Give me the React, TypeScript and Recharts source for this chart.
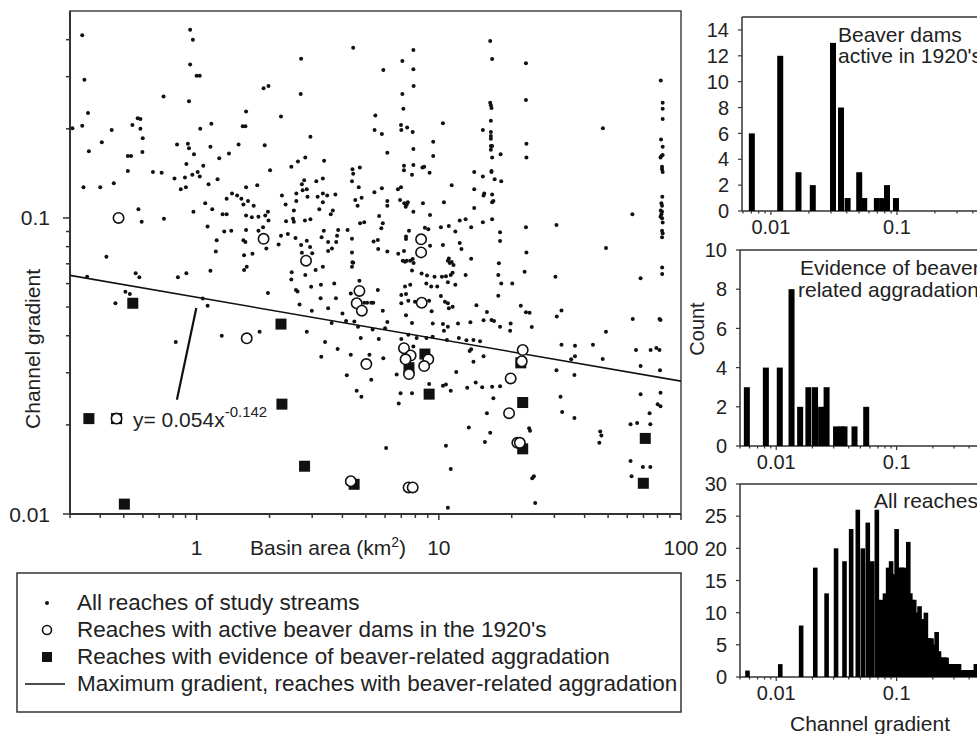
import React from 'react';
import { ScatterChart, Scatter, XAxis, YAxis, ReferenceArea, ReferenceLine } from 'recharts';

const FONT = "Arial, 'Liberation Sans', Helvetica, sans-serif";
const INK = '#111';

// ---------- main scatter: [basin area km2, channel gradient] ----------
const allReaches: [number, number][] = [
  [0.337,0.414],[0.344,0.293],[0.356,0.226],[0.337,0.205],[0.307,0.201],[0.359,0.168],[0.341,0.127],[0.40,0.127],[0.455,0.131],[0.406,0.180],
  [0.446,0.198],[0.543,0.206],[0.571,0.217],[0.586,0.216],[0.586,0.200],[0.599,0.186],[0.597,0.167],[0.52,0.162],[0.536,0.162],[0.52,0.144],
  [0.575,0.107],[0.593,0.097],[0.424,0.074],[0.73,0.257],[0.94,0.432],[0.965,0.40],[0.94,0.33],[1.0,0.302],[1.03,0.302],[0.93,0.248],
  [0.83,0.177],[0.92,0.178],[0.93,0.172],[0.975,0.164],[0.907,0.152],[0.66,0.143],[0.717,0.142],[0.81,0.136],[0.895,0.137],[0.903,0.127],
  [0.86,0.125],[0.96,0.140],[1.01,0.143],[1.03,0.138],[1.065,0.150],[1.035,0.200],[1.15,0.208],[1.14,0.174],[1.24,0.159],[1.22,0.135],
  [1.12,0.130],[0.733,0.0993],[0.97,0.105],[1.085,0.112],[1.16,0.107],[1.11,0.0935],[1.21,0.084],[1.2,0.077],[1.28,0.103],[1.33,0.103],
  [1.33,0.116],[1.40,0.121],[1.47,0.119],[1.53,0.116],[1.56,0.111],[1.63,0.114],[1.72,0.110],[1.6,0.127],[1.78,0.129],[1.36,0.165],
  [1.49,0.177],[1.55,0.204],[1.59,0.204],[1.60,0.229],[1.89,0.274],[1.98,0.279],[1.91,0.176],[2.01,0.145],[2.23,0.22],[2.70,0.345],
  [2.69,0.262],[2.95,0.188],[2.81,0.160],[2.62,0.155],[2.46,0.149],[3.36,0.156],[4.43,0.376],[5.47,0.222],[5.43,0.198],[4.4,0.146],
  [4.43,0.141],[4.72,0.148],[4.38,0.133],[4.67,0.127],[5.42,0.122],[4.52,0.115],[4.8,0.117],[4.62,0.110],[4.73,0.0959],[4.92,0.0967],
  [4.38,0.085],[4.38,0.0765],[4.4,0.0709],[5.38,0.0832],[5.6,0.0843],[5.62,0.0785],[2.72,0.130],[2.78,0.134],[2.85,0.125],[2.74,0.124],
  [3.12,0.133],[3.32,0.136],[2.58,0.121],[2.25,0.119],[3.16,0.118],[3.32,0.121],[3.46,0.119],[3.74,0.120],[2.58,0.114],[2.87,0.118],
  [2.33,0.111],[3.32,0.113],[3.21,0.107],[3.65,0.106],[3.58,0.103],[2.52,0.106],[1.60,0.102],[1.69,0.1005],[1.80,0.101],[1.92,0.102],
  [1.97,0.105],[1.98,0.098],[2.34,0.0975],[2.5,0.0993],[2.52,0.097],[2.80,0.098],[2.95,0.099],[3.35,0.0906],[3.28,0.086],[3.49,0.083],
  [3.77,0.083],[3.84,0.091],[3.80,0.087],[4.2,0.091],[1.39,0.0906],[1.30,0.090],[1.60,0.091],[1.80,0.0906],[1.88,0.093],[1.56,0.084],
  [1.59,0.083],[2.23,0.087],[2.38,0.0883],[2.56,0.0855],[2.18,0.0813],[1.94,0.0788],[1.57,0.0748],[1.70,0.0757],[2.70,0.081],[2.85,0.0838],
  [2.94,0.0797],[3.0,0.076],[2.72,0.0763],[3.49,0.0774],[3.62,0.0788],
  [5.9,0.316],[5.82,0.192],[6.13,0.166],[7.07,0.339],[7.85,0.369],[7.85,0.318],[7.87,0.279],[7.07,0.262],[7.14,0.234],[6.98,0.206],
  [7.0,0.198],[7.4,0.202],[7.8,0.195],[7.85,0.171],[7.18,0.150],[7.18,0.145],[7.85,0.151],[7.75,0.140],[8.56,0.148],[8.7,0.149],
  [9.16,0.142],[9.48,0.181],[9.48,0.162],[10.4,0.209],[11.3,0.129],[10.5,0.113],[5.82,0.126],[6.78,0.125],[6.98,0.127],[6.13,0.114],
  [6.13,0.110],[6.92,0.115],[7.2,0.112],[7.37,0.111],[7.3,0.109],[7.45,0.113],[7.85,0.105],[8.6,0.112],[9.2,0.1023],[5.67,0.1016],
  [5.87,0.0959],[5.79,0.0923],[6.13,0.077],[6.8,0.0757],[7.18,0.0774],[7.32,0.0849],[7.53,0.0906],[7.32,0.0865],[7.1,0.0717],[7.37,0.0717],
  [7.8,0.0726],[8.76,0.0927],[9.05,0.0915],[9.2,0.0806],[10.2,0.093],[10.4,0.081],[11.0,0.094],[11.7,0.090],[12.2,0.098],[12.9,0.099],
  [12.2,0.0823],[12.4,0.0785],[11.0,0.073],[11.3,0.071],[13.6,0.093],[14.0,0.108],[15.2,0.0967],[13.6,0.0728],[14.0,0.125],[14.0,0.143],
  [15.2,0.138],[15.3,0.119],[15.4,0.121],[16.6,0.12],[16.6,0.113],[16.8,0.114],[16.6,0.099],[15.2,0.198],[16.3,0.396],[16.6,0.344],
  [16.3,0.245],[16.4,0.24],[16.5,0.235],[16.4,0.213],[16.4,0.195],[16.4,0.189],[16.4,0.185],[16.4,0.175],[16.6,0.175],[16.4,0.170],
  [16.6,0.16],[18.0,0.164],[16.5,0.144],[16.5,0.143],[17.0,0.135],[18.1,0.133],[17.9,0.0895],[17.9,0.0835],[17.7,0.0703],[22.9,0.333],
  [22.9,0.25],[23.0,0.178],[23.0,0.16],[22.9,0.093],[23.0,0.0765],[30.6,0.0947],[47.6,0.201],[63.0,0.103],[49.0,0.0792],
  [82.5,0.291],[84,0.245],[84,0.234],[84,0.216],[82.7,0.184],[84,0.174],[82.3,0.16],[83,0.162],[84,0.163],[83.5,0.149],
  [83.5,0.146],[84,0.143],[83.7,0.118],[83,0.112],[83.5,0.110],[82.5,0.106],[83.5,0.105],[83,0.103],[82.3,0.101],[83.5,0.0997],
  [84,0.0965],[83.5,0.0906],[84,0.0888],[83.5,0.086],
  [0.353,0.0633],[0.462,0.0515],[0.508,0.0563],[0.53,0.0553],[0.56,0.065],[0.58,0.063],[0.837,0.063],[0.907,0.065],[1.14,0.0663],[0.82,0.0381],
  [1.06,0.0534],[1.11,0.0505],[1.27,0.040],[1.57,0.0667],[1.61,0.0684],[1.82,0.0413],[1.97,0.0558],[2.47,0.0655],[2.46,0.0619],[2.57,0.0571],
  [2.61,0.0564],[2.66,0.051],[2.81,0.0641],[2.85,0.0413],[2.97,0.0585],[2.99,0.0486],[3.1,0.0667],[3.32,0.0684],[3.26,0.0595],[3.25,0.0535],
  [3.49,0.0495],[3.39,0.0381],[3.27,0.034],[3.82,0.0361],[3.7,0.0601],[3.76,0.0535],[4.0,0.0476],[3.61,0.0442],[4.43,0.0706],[4.38,0.0684],
  [4.7,0.0614],[4.33,0.0556],[4.92,0.0517],[5.06,0.0517],[5.26,0.0517],[5.36,0.0517],[4.14,0.0449],[4.48,0.0447],[4.64,0.0429],[4.76,0.0393],
  [4.33,0.0345],[4.17,0.0294],[4.58,0.0261],[4.79,0.0249],[5.26,0.0284],[5.33,0.042],[5.6,0.0571],[5.65,0.039],[5.17,0.0345],
  [7.25,0.0711],[7.62,0.0717],[7.87,0.0705],[10.9,0.0717],[11.1,0.0705],[11.5,0.0693],[7.75,0.0664],[8.49,0.0649],[8.94,0.0639],[9.6,0.0633],
  [10.3,0.0633],[10.7,0.0636],[11.2,0.0641],[11.4,0.0653],[10.9,0.0606],[11.7,0.0595],[12.9,0.0641],[7.25,0.0587],[7.62,0.0595],[8.88,0.06],
  [9.3,0.0587],[9.85,0.0587],[7.0,0.0549],[7.32,0.0554],[7.0,0.0515],[7.48,0.0525],[7.97,0.0521],[9.12,0.0525],[9.34,0.0484],[10.2,0.0545],
  [10.6,0.0521],[10.9,0.0515],[11.0,0.0495],[11.4,0.0501],[7.32,0.0469],[7.75,0.0442],[9.44,0.044],[10.4,0.0438],[10.5,0.0416],[10.9,0.0429],
  [5.87,0.0486],[6.13,0.0445],[6.0,0.0424],[5.9,0.0336],[8.89,0.0393],[9.43,0.0397],[10.8,0.0387],[12.1,0.0393],[13.5,0.0444],[13.9,0.0387],
  [14.3,0.0507],[15.3,0.0451],[15.8,0.0481],[16.5,0.0452],[16.9,0.0449],[17.9,0.0429],[19.7,0.0416],[19.8,0.044],[17.6,0.0641],[18.1,0.0601],
  [20.1,0.0600],[17.6,0.0546],[22.6,0.0658],[21.8,0.0505],[22.9,0.048],[23.7,0.0478],[24.2,0.0428],[30.3,0.0633],[30.7,0.0465],[32.1,0.0487],
  [32.1,0.0373],[30.6,0.0306],[36.5,0.0370],[36.5,0.0341],[35.2,0.0333],[36.3,0.0295],[47.5,0.0334],[43.3,0.0373],[49.0,0.0413],[63.2,0.0456],
  [68.1,0.0625],[83.6,0.068],[83.6,0.0647],[81.5,0.0456],[82.3,0.0452],[65.2,0.0358],[68.1,0.0316],[74.9,0.0358],[79.1,0.0364],[81.5,0.0358],
  [81.9,0.0306],[68.1,0.0254],[82.3,0.0257],[80.1,0.0235],[82.3,0.0231],[74.2,0.0219],[61.9,0.0201],[65.9,0.0203],[74.7,0.0201],[61.9,0.0151],
  [62.5,0.0134],[69.6,0.0144],[74.7,0.0144],[46.4,0.019],[46.9,0.0184],[46.0,0.0174],[31.8,0.0249],[32.3,0.0221],[36.3,0.0211],[24.3,0.0132],
  [24.7,0.0134],[25.0,0.0109],[23.6,0.0195],[23.8,0.0191],[16.8,0.0246],[15.8,0.0219],[16.3,0.0188],[15.5,0.0175],[13.3,0.0196],[10.7,0.017],
  [11.2,0.0142],[10.9,0.0105],[6.06,0.0167],[11.2,0.0261],[10.4,0.0271],[10.7,0.0274],[13.1,0.0267],[15.1,0.0268],[16.6,0.0269],[17.9,0.027],
  [14.2,0.0278],[13.9,0.0327],[15.3,0.0341],[13.4,0.0355],[11.8,0.0302],[12.0,0.044],[13.0,0.0386],[14.8,0.0383],[13.6,0.036],[7.0,0.039],
  [6.7,0.0296],[9.12,0.0275],[6.95,0.0256],[6.83,0.0236],[7.75,0.0256],[9.34,0.0257],[8.1,0.0393],[7.85,0.0368],[7.48,0.0403]
];

const beaverDams1920s: [number, number][] = [
  [0.476,0.1],[1.89,0.085],[2.83,0.0717],[1.61,0.0392],[4.7,0.0567],[4.58,0.0515],[4.81,0.0486],[5.02,0.0321],[4.33,0.0129],[0.467,0.021],
  [8.45,0.0847],[8.45,0.0765],[8.5,0.0517],[7.18,0.0363],[7.65,0.0343],[7.29,0.0333],[9.05,0.0333],[8.7,0.0316],[7.53,0.0297],[22.2,0.0358],
  [22.0,0.0328],[19.8,0.0287],[19.5,0.0219],[21.1,0.0174],[21.6,0.0174],[7.5,0.0123],[7.8,0.0123]
];

const aggradationReaches: [number, number][] = [
  [0.545,0.0515],[2.23,0.0438],[2.25,0.0235],[0.359,0.021],[0.467,0.021],[0.503,0.0108],[2.79,0.0145],[4.47,0.0126],
  [8.76,0.0347],[7.53,0.0312],[9.12,0.0254],[21.8,0.0324],[22.2,0.0238],[22.2,0.0166],[71.2,0.018],[69.9,0.0127]
];

// maximum-gradient power law y = 0.054 x^-0.142 (straight on log-log), end points
const maxGradientLine: [number, number][] = [[0.3, 0.064], [100, 0.0281]];
const equationLeader: [number, number][] = [[0.997, 0.0496], [0.829, 0.0243]];

const areaTicks = [0.3,0.4,0.5,0.6,0.7,0.8,0.9,1,2,3,4,5,6,7,8,9,10,20,30,40,50,60,70,80,90,100];
const areaLabels = [1, 10, 100];
const gradTicks = [0.01,0.02,0.03,0.04,0.05,0.06,0.07,0.08,0.09,0.1,0.2,0.3,0.4];
const gradLabels = [0.01, 0.1];

// ---------- histograms: [channel gradient bin, count] ----------
const damsBins = [0.00706,0.01186,0.01656,0.0215,0.0311,0.0360,0.0406,0.0502,0.0550,0.0693,0.0769,0.0834,0.0982];
const damsCounts = [6,12,3,2,13,8,1,3,1,1,1,2,1];

const aggrBins = [0.0057,0.0082,0.0107,0.0134,0.0158,0.0185,0.0210,0.0236,0.0262,0.0314,0.0346,0.0369,0.0447,0.0559];
const aggrCounts = [3,4,4,8,2,3,3,2,3,1,1,1,1,2];

const allBins = [
  0.00577,0.0108,0.0161,0.0211,0.0262,0.0314,0.0369,0.0419,0.0476,0.0524,0.0576,0.0627,0.0685,
  0.07,0.075,0.08,0.085,0.09,0.095,0.1,0.105,0.11,0.115,0.12,0.125,0.13,0.135,0.14,0.145,0.15,0.155,0.16,0.165,0.17,0.175,
  0.18,0.185,0.19,0.195,0.2,0.205,0.21,0.215,0.22,0.225,0.23,0.235,0.24,0.245,0.25,0.255,0.26,0.265,0.27,0.275,0.28,0.285,
  0.29,0.295,0.3,0.305,0.31,0.315,0.32,0.325,0.33,0.335,0.34,0.345,0.35,0.355,0.36,0.365,0.37,0.375,0.38,0.385,0.39,0.395,
  0.4,0.405,0.41,0.415,0.42,0.425,0.43,0.435,0.44,0.445,0.45,0.455,0.46,0.465,0.47
];
const allCounts = [
  1,2,8,17,13,20,18,23,26,20,24,18,26,
  12,12,13,17,18,16,23,17,17,17,15,21,13,12,12,10,10,11,9,9,8,10,
  6,6,6,6,5,5,5,7,4,4,3,3,3,3,3,3,3,2,2,2,2,2,
  2,2,2,2,2,2,2,2,2,1,1,1,1,1,1,1,1,1,1,1,1,1,
  1,1,1,1,1,1,1,1,1,1,1,2,2,1,1
];

const histXTicks = [0.005,0.006,0.007,0.008,0.009,0.01,0.02,0.03,0.04,0.05,0.06,0.07,0.08,0.09,0.1,0.2,0.3,0.4,0.5,0.6,0.7,0.8,0.9,1];
const histXLabels = [0.01, 0.1];

const toPts = (a: [number, number][]) => a.map(([x, y]) => ({ x, y }));

const MainXTick = (p: any) => {
  const v = p.payload.value;
  const major = areaLabels.includes(v);
  return (
    <g>
      <line x1={p.x} y1={p.y} x2={p.x} y2={p.y + (major ? 6 : 4)} stroke="#333" strokeWidth={1.5} />
      {major && (
        <text x={p.x} y={p.y + 41} textAnchor="middle" fontSize={21} fontFamily={FONT} fill="#222">{v}</text>
      )}
    </g>
  );
};
const MainYTick = (p: any) => {
  const v = p.payload.value;
  const major = gradLabels.includes(v);
  return (
    <g>
      <line x1={p.x} y1={p.y} x2={p.x - (major ? 7 : 4)} y2={p.y} stroke="#333" strokeWidth={1.5} />
      {major && (
        <text x={p.x - 20} y={p.y} dy="0.36em" textAnchor="end" fontSize={21} fontFamily={FONT} fill="#222">{v}</text>
      )}
    </g>
  );
};
const RightTick = (p: any) => (
  <line x1={p.x} y1={p.y} x2={p.x - 4} y2={p.y} stroke="#333" strokeWidth={1.5} />
);
const HistXTick = (p: any) => {
  const v = p.payload.value;
  const major = histXLabels.includes(v);
  return (
    <g>
      <line x1={p.x} y1={p.y} x2={p.x} y2={p.y + (major ? 4 : 2.5)} stroke="#333" strokeWidth={1.2} />
      {major && (
        <text x={p.x} y={p.y + 23} textAnchor="middle" fontSize={20} fontFamily={FONT} fill="#222">{v}</text>
      )}
    </g>
  );
};
const HistYTick = (p: any) => (
  <g>
    <line x1={p.x} y1={p.y} x2={p.x - 4} y2={p.y} stroke="#333" strokeWidth={1.2} />
    <text x={p.x - 13} y={p.y} dy="0.36em" textAnchor="end" fontSize={20} fontFamily={FONT} fill="#222">{p.payload.value}</text>
  </g>
);

type HistProps = {
  left: number; top: number; plotW: number; plotH: number; xMin: number;
  yMax: number; yTicks: number[]; bins: number[]; counts: number[]; barW: number;
};

function Histogram({ left, top, plotW, plotH, xMin, yMax, yTicks, bins, counts, barW }: HistProps) {
  const data = bins.map((g, i) => ({ x: g, y: counts[i] }));
  const mt = 14, yw = 50, xh = 40;
  const base = mt + plotH;
  return (
    <div style={{ position: 'absolute', left: left - yw, top: top - mt }}>
      <ScatterChart width={yw + plotW} height={mt + plotH + xh} margin={{ top: mt, right: 0, left: 0, bottom: 0 }}>
        <XAxis type="number" dataKey="x" scale="log" domain={[xMin, 1]} allowDataOverflow
          ticks={histXTicks.filter((t) => t >= xMin)} interval={0} height={xh} tickSize={0} tickMargin={0}
          tickLine={false} tick={HistXTick} axisLine={{ stroke: '#333', strokeWidth: 1.5 }} />
        <YAxis type="number" dataKey="y" domain={[0, yMax]} allowDataOverflow ticks={yTicks} interval={0}
          width={yw} tickSize={0} tickMargin={0} tickLine={false} tick={HistYTick}
          axisLine={{ stroke: '#333', strokeWidth: 1.5 }} />
        <ReferenceLine y={yMax} stroke="#333" strokeWidth={1.5} />
        <Scatter data={data} isAnimationActive={false}
          shape={(p: any) => (
            <rect x={p.cx - barW / 2} y={p.cy} width={barW} height={Math.max(0, base - p.cy)} fill="#000" />
          )} />
      </ScatterChart>
    </div>
  );
}

export default function App() {
  return (
    <div style={{ position: 'absolute', left: 0, top: 0, width: 977, height: 734, overflow: 'hidden', background: '#fff', fontFamily: FONT }}>
      <div style={{ position: 'absolute', left: 0, top: 0 }}>
        <ScatterChart width={700} height={560} margin={{ top: 11, right: 19, bottom: 0, left: 0 }}>
          <XAxis type="number" dataKey="x" scale="log" domain={[0.3, 100]} allowDataOverflow ticks={areaTicks}
            interval={0} height={46} tickSize={0} tickMargin={0} tickLine={false} tick={MainXTick}
            axisLine={{ stroke: '#333', strokeWidth: 2 }} />
          <YAxis type="number" dataKey="y" scale="log" domain={[0.01, 0.5]} allowDataOverflow ticks={gradTicks}
            interval={0} width={70} tickSize={0} tickMargin={0} tickLine={false} tick={MainYTick}
            axisLine={{ stroke: '#333', strokeWidth: 2 }} />
          <YAxis yAxisId="r" orientation="right" type="number" scale="log" domain={[0.01, 0.5]} allowDataOverflow
            ticks={gradTicks} interval={0} width={0} tickSize={0} tickMargin={0} tickLine={false} tick={RightTick}
            axisLine={false} />
          <ReferenceArea x1={0.3} x2={100} y1={0.01} y2={0.5} fill="none" fillOpacity={0} stroke="#444" strokeWidth={1.5} />
          <Scatter data={toPts(allReaches)} isAnimationActive={false}
            shape={(p: any) => <circle cx={p.cx} cy={p.cy} r={2} fill={INK} />} />
          <Scatter data={toPts(maxGradientLine)} isAnimationActive={false} line={{ stroke: INK, strokeWidth: 1.6 }}
            shape={() => <g />} />
          <ReferenceLine segment={toPts(equationLeader)} stroke={INK} strokeWidth={2.2} />
          <Scatter data={toPts(aggradationReaches)} isAnimationActive={false}
            shape={(p: any) => <rect x={p.cx - 5.5} y={p.cy - 5.5} width={11} height={11} fill={INK} />} />
          <Scatter data={toPts(beaverDams1920s)} isAnimationActive={false}
            shape={(p: any) => <circle cx={p.cx} cy={p.cy} r={5.2} fill="#fff" stroke={INK} strokeWidth={1.6} />} />
        </ScatterChart>
      </div>

      <Histogram left={742} top={17} plotW={281} plotH={194} xMin={0.0059} yMax={15}
        yTicks={[0, 2, 4, 6, 8, 10, 12, 14]} bins={damsBins} counts={damsCounts} barW={6} />
      <Histogram left={740} top={250} plotW={277} plotH={196} xMin={0.005} yMax={10}
        yTicks={[0, 2, 4, 6, 8, 10]} bins={aggrBins} counts={aggrCounts} barW={6} />
      <Histogram left={740} top={484} plotW={277} plotH={193} xMin={0.005} yMax={30}
        yTicks={[0, 5, 10, 15, 20, 25, 30]} bins={allBins} counts={allCounts} barW={4.6} />

      <svg width={977} height={734} style={{ position: 'absolute', left: 0, top: 0, pointerEvents: 'none' }}
        fontFamily={FONT} fill="#222">
        <text transform="translate(40,349) rotate(-90)" textAnchor="middle" fontSize={21}>Channel gradient</text>
        <text x={133} y={427} fontSize={21}>y= 0.054x<tspan dy={-10} fontSize={15}>-0.142</tspan></text>
        <text x={250} y={555} fontSize={21}>Basin area (km<tspan dy={-8} fontSize={14}>2</tspan><tspan dy={8}>)</tspan></text>

        <text x={838} y={42} fontSize={21}>Beaver dams</text>
        <text x={838} y={63} fontSize={21}>active in 1920's</text>
        <text x={800} y={275} fontSize={21}>Evidence of beaver</text>
        <text x={798} y={297} fontSize={21}>related aggradation</text>
        <text x={874} y={508} fontSize={21}>All reaches</text>
        <text transform="translate(704,329) rotate(-90)" textAnchor="middle" fontSize={20}>Count</text>
        <text x={870} y={731} textAnchor="middle" fontSize={21}>Channel gradient</text>

        <rect x={17} y={573} width={664} height={139} fill="#fff" stroke="#333" strokeWidth={1.5} />
        <circle cx={47} cy={603} r={2} fill={INK} />
        <circle cx={47} cy={630} r={4.5} fill="#fff" stroke={INK} strokeWidth={1.6} />
        <rect x={42} y={652} width={10} height={10} fill={INK} />
        <line x1={25} y1={684} x2={65} y2={684} stroke={INK} strokeWidth={1.5} />
        <text x={77} y={610} fontSize={22.5}>All reaches of study streams</text>
        <text x={77} y={637} fontSize={22.5}>Reaches with active beaver dams in the 1920's</text>
        <text x={77} y={664} fontSize={22.5}>Reaches with evidence of beaver-related aggradation</text>
        <text x={77} y={691} fontSize={22.5}>Maximum gradient, reaches with beaver-related aggradation</text>
      </svg>
    </div>
  );
}
